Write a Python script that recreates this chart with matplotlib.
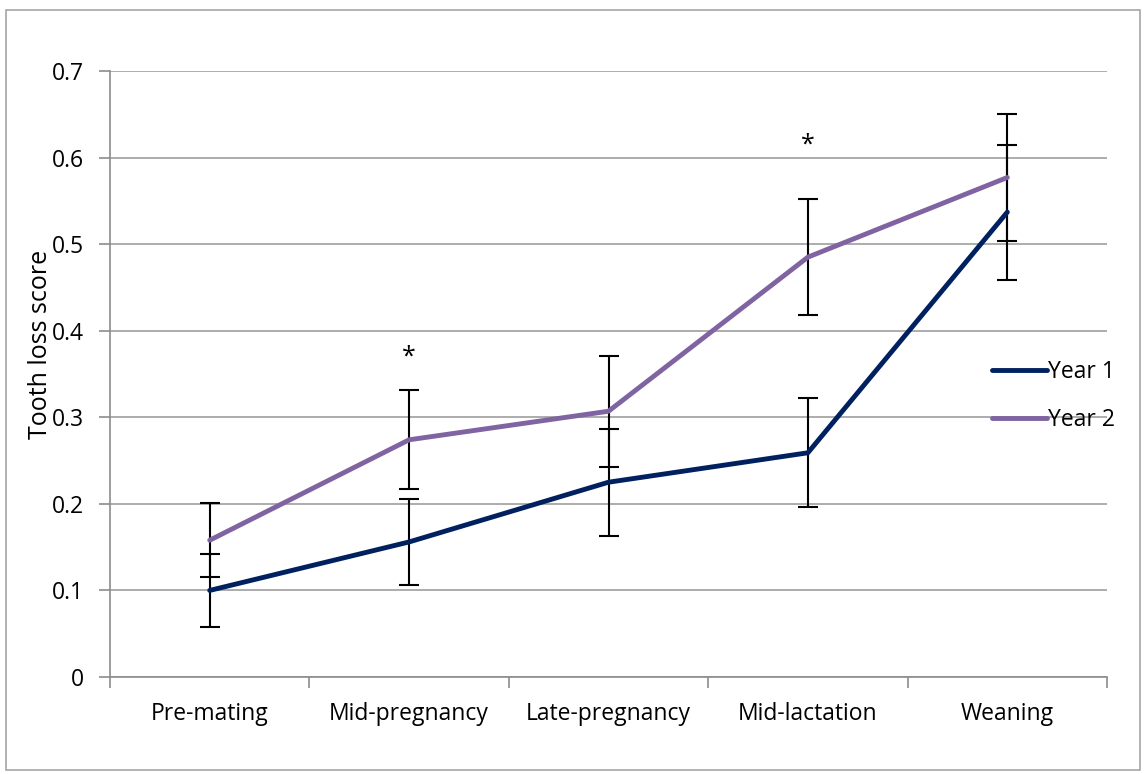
import matplotlib.pyplot as plt
from matplotlib.patches import Rectangle

# stages and scores
stages = ['Pre-mating', 'Mid-pregnancy', 'Late-pregnancy', 'Mid-lactation', 'Weaning']
year1 = [0.100, 0.156, 0.225, 0.259, 0.537]
year1_err = [0.042, 0.050, 0.062, 0.063, 0.078]
year2 = [0.158, 0.274, 0.307, 0.485, 0.577]
year2_err = [0.043, 0.057, 0.064, 0.067, 0.073]
# significance markers
star_idx = [1, 3]
star_y = [0.370, 0.614]

plt.rcParams['font.family'] = ['Open Sans', 'DejaVu Sans']

fig = plt.figure(figsize=(11.46, 7.74), dpi=100)
ax = fig.add_axes([110 / 1146, 1 - 677 / 774, (1107 - 110) / 1146, (677 - 71) / 774])

# outer chart border
fig.patches.append(Rectangle((6 / 1146, 4 / 774), 1134 / 1146, 760 / 774,
                             transform=fig.transFigure, fill=False,
                             edgecolor='#a6a6a6', lw=1.2))

x = list(range(len(stages)))
ax.errorbar(x, year1, yerr=year1_err, fmt='none', ecolor='black',
            elinewidth=1.5, capsize=7, capthick=1.5, zorder=3)
ax.errorbar(x, year2, yerr=year2_err, fmt='none', ecolor='black',
            elinewidth=1.5, capsize=7, capthick=1.5, zorder=3)
ax.plot(x, year1, color='#002060', lw=3.5, label='Year 1', zorder=4,
        solid_capstyle='round')
ax.plot(x, year2, color='#8064A2', lw=3.5, label='Year 2', zorder=4,
        solid_capstyle='round')

for i, yy in zip(star_idx, star_y):
    ax.text(i, yy, '*', ha='center', va='center', fontsize=18)

ax.set_xlim(-0.5, len(stages) - 0.5)
ax.set_ylim(0, 0.7)
ax.set_yticks([i / 10 for i in range(8)])
ax.set_yticklabels(['0'] + ['%.1f' % (i / 10) for i in range(1, 8)])
ax.set_xticks(x)
ax.set_xticklabels(stages)
ax.set_xticks([i - 0.5 for i in range(len(stages) + 1)], minor=True)
ax.tick_params(axis='x', which='major', length=0, pad=18, labelsize=16.5)
ax.tick_params(axis='x', which='minor', length=8, width=1.2, color='#8c8c8c')
ax.tick_params(axis='y', length=8, width=1.2, color='#8c8c8c', pad=11, labelsize=16.5)

ax.grid(axis='y', color='#a6a6a6', lw=1.3)
ax.set_axisbelow(True)
for s in ['top', 'right']:
    ax.spines[s].set_visible(False)
for s in ['left', 'bottom']:
    ax.spines[s].set_color('#8c8c8c')
    ax.spines[s].set_linewidth(1.2)

ax.set_ylabel('Tooth loss score', fontsize=18)
ax.yaxis.set_label_coords(-0.057, 0.548)

fig.legend(loc='center left', bbox_to_anchor=(992 / 1146, 1 - 396 / 774),
           frameon=False, fontsize=16.5, handlelength=2.4, handletextpad=0.05,
           labelspacing=1.05, borderpad=0, borderaxespad=0)

fig.savefig('out.png', dpi=100)
